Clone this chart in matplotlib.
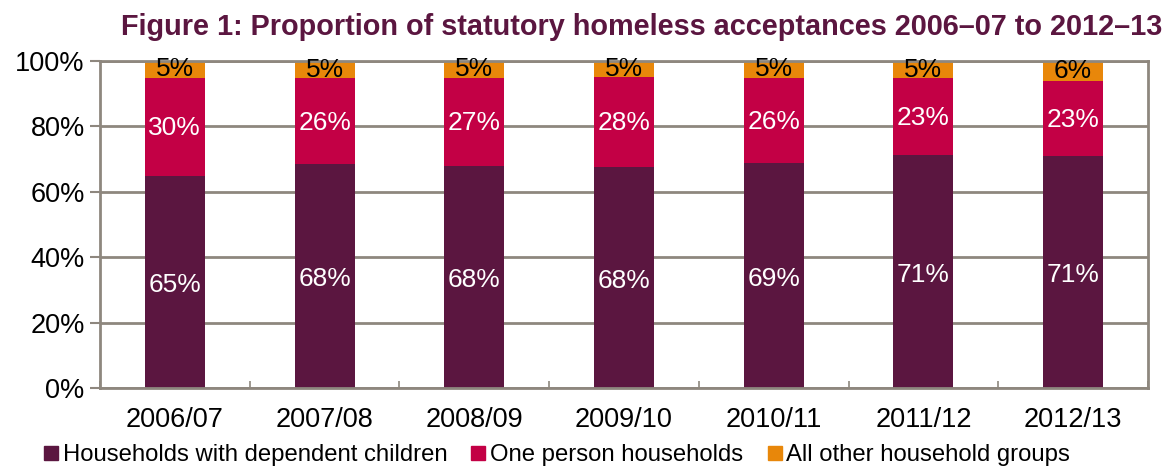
import matplotlib
matplotlib.use('Agg')
import matplotlib.pyplot as plt
from matplotlib.lines import Line2D
import numpy as np

plt.rcParams['font.family'] = ['Liberation Sans', 'DejaVu Sans']

years = ['2006/07', '2007/08', '2008/09', '2009/10', '2010/11', '2011/12', '2012/13']
children = [64.9, 68.4, 67.9, 67.6, 68.9, 71.4, 71.0]
one_person = [30.0, 26.4, 27.0, 27.6, 26.0, 23.4, 23.0]
other = [5.1, 5.2, 5.1, 4.8, 5.1, 5.2, 6.0]
series_names = ['Households with dependent children', 'One person households',
                'All other household groups']

c_dark = '#5B1640'
c_pink = '#C30045'
c_orange = '#E8870A'
grid_c = '#8E877E'

W, H = 1167, 466
fig = plt.figure(figsize=(W / 100, H / 100), dpi=100)
ax = fig.add_axes([100 / W, (H - 388) / H, 1048 / W, 327 / H])

x = np.arange(len(years))
children = np.array(children)
one_person = np.array(one_person)
other = np.array(other)
width = 0.4

ax.bar(x, children, width, color=c_dark, zorder=2)
ax.bar(x, one_person, width, bottom=children, color=c_pink, zorder=2)
ax.bar(x, other, width, bottom=children + one_person, color=c_orange, zorder=2)

lab_size = 19
for i in range(len(years)):
    ax.text(x[i], children[i] / 2 - 1, '%.0f%%' % children[i], ha='center', va='center',
            color='white', fontsize=lab_size, zorder=3)
    ax.text(x[i], children[i] + one_person[i] / 2 - 0.5, '%.0f%%' % one_person[i],
            ha='center', va='center', color='white', fontsize=lab_size, zorder=3)
    ax.text(x[i], children[i] + one_person[i] + other[i] / 2, '%.0f%%' % other[i],
            ha='center', va='center', color='black', fontsize=lab_size, zorder=3)

ax.set_xlim(-0.5, len(years) - 0.5)
ax.set_ylim(0, 100)
ax.set_yticks([0, 20, 40, 60, 80, 100])
ax.set_yticklabels(['%d%%' % v for v in [0, 20, 40, 60, 80, 100]])
ax.set_xticks(x)
ax.set_xticklabels(years)
ax.set_xticks(np.arange(len(years) + 1) - 0.5, minor=True)
ax.tick_params(axis='y', labelsize=19.5, length=7, width=1.5, color=grid_c, pad=4)
ax.tick_params(axis='x', which='both', direction='in', length=5, width=1.2,
               color=grid_c, labelsize=19.5, pad=14)
ax.yaxis.grid(True, color=grid_c, linewidth=2, zorder=0)
ax.set_axisbelow(True)
for side in ['left', 'right', 'bottom', 'top']:
    ax.spines[side].set_color(grid_c)
    ax.spines[side].set_linewidth(2)

fig.text(642 / W, 1 - 27 / H,
         'Figure 1: Proportion of statutory homeless acceptances 2006\u201307 to 2012\u201313',
         ha='center', va='center', fontsize=20.8, fontweight='bold', color=c_dark)

handles = [Line2D([], [], marker='s', linestyle='none', markersize=10, color=c)
           for c in [c_dark, c_pink, c_orange]]
fig.legend(handles, series_names, loc='center', bbox_to_anchor=(557 / W, 1 - 455 / H),
           ncol=3, frameon=False, fontsize=17.2, handlelength=0.6, handletextpad=0.2,
           columnspacing=1.0, borderpad=0)

plt.savefig('out.png', dpi=100)
